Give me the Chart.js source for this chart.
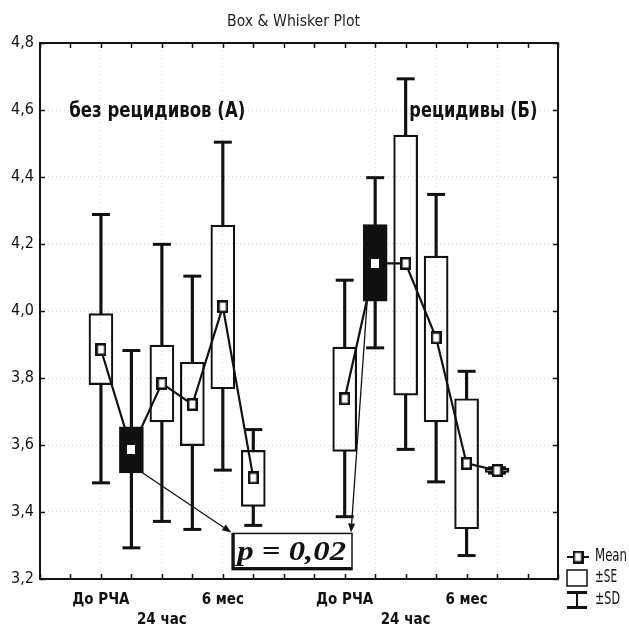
<!DOCTYPE html>
<html>
<head>
<meta charset="utf-8">
<script src="https://cdn.jsdelivr.net/npm/chart.js@4.4.1/dist/chart.umd.min.js"></script>
<style>
  html, body { margin: 0; padding: 0; background: #fff; }
  #wrap { width: 629px; height: 629px; }
</style>
</head>
<body>
<div id="wrap"><canvas id="boxChart"></canvas></div>
<script>
// x slots of the boxes: group A at 2..7, group B at 10..15
const positions = [2, 3, 4, 5, 6, 7, 10, 11, 12, 13, 14, 15];
const means = [3.885, 3.587, 3.784, 3.721, 4.013, 3.502, 3.738, 4.142, 4.142, 3.920, 3.545, 3.524];
const seLo  = [3.780, 3.517, 3.669, 3.598, 3.768, 3.417, 3.581, 4.029, 3.749, 3.669, 3.350, 3.518];
const seHi  = [3.992, 3.654, 3.898, 3.847, 4.256, 3.584, 3.892, 4.258, 4.525, 4.164, 3.738, 3.530];
const sdLo  = [3.487, 3.293, 3.372, 3.348, 3.525, 3.360, 3.386, 3.890, 3.587, 3.490, 3.270, 3.516];
const sdHi  = [4.288, 3.882, 4.199, 4.104, 4.504, 3.646, 4.092, 4.398, 4.693, 4.348, 3.820, 3.532];
const highlighted = [1, 7];          // boxes drawn solid
const groupA = [0, 1, 2, 3, 4, 5];
const groupB = [6, 7, 8, 9, 10, 11];

const tickPositions = [2, 4, 6, 10, 12, 14];
const tickNames = ['До РЧА', '24 час', '6 мес', 'До РЧА', '24 час', '6 мес'];
const tickRows = [0, 1, 0, 0, 1, 0];  // staggered labels go on the second line
const gridXAt = [2, 4, 6, 11, 13, 15];
const yTicks = { min: 3.2, max: 4.8, step: 0.2 };

const pText = 'p = 0,02';
const labelA = 'без рецидивов (А)';
const labelB = 'рецидивы (Б)';
const legendNames = ['Mean', '±SE', '±SD'];

const INK = '#111';
const NARROW = "'Liberation Sans Narrow', 'Arial Narrow', 'DejaVu Sans Condensed', sans-serif";

function markerCanvas(w, h, fill, stroke, lw) {
  const c = document.createElement('canvas');
  c.width = w; c.height = h;
  const g = c.getContext('2d');
  g.fillStyle = fill;
  g.fillRect(0, 0, w, h);
  if (stroke) {
    g.strokeStyle = stroke;
    g.lineWidth = lw;
    g.strokeRect(lw / 2, lw / 2, w - lw, h - lw);
  }
  return c;
}
const openMarker = markerCanvas(11, 13, '#fff', INK, 2.5);
const whiteMarker = markerCanvas(8, 9, '#fff');

const isSolid = i => highlighted.includes(i);
const pts = (idx, vals) => idx.map(i => ({ x: positions[i], y: vals[i] }));

// text squeezed/stretched to a given width
function fitText(ctx, text, x, y, width) {
  const w = ctx.measureText(text).width;
  ctx.save();
  ctx.translate(x, y);
  ctx.scale(width / w, 1);
  ctx.fillText(text, 0, 0);
  ctx.restore();
}

function arrow(ctx, x1, y1, x2, y2) {
  const ang = Math.atan2(y2 - y1, x2 - x1);
  const len = 9, half = 3.5;
  ctx.beginPath();
  ctx.moveTo(x1, y1);
  ctx.lineTo(x2 - Math.cos(ang) * len, y2 - Math.sin(ang) * len);
  ctx.stroke();
  ctx.beginPath();
  ctx.moveTo(x2, y2);
  ctx.lineTo(x2 - Math.cos(ang) * len - Math.sin(ang) * half, y2 - Math.sin(ang) * len + Math.cos(ang) * half);
  ctx.lineTo(x2 - Math.cos(ang) * len + Math.sin(ang) * half, y2 - Math.sin(ang) * len - Math.cos(ang) * half);
  ctx.closePath();
  ctx.fill();
}

const overlay = {
  id: 'overlay',
  afterDraw(chart) {
    const { ctx, chartArea: a, scales: { x, y } } = chart;
    ctx.save();
    ctx.strokeStyle = INK;
    ctx.fillStyle = INK;

    // frame with inward ticks on all four sides
    ctx.lineWidth = 2;
    ctx.strokeRect(a.left, a.top, a.width, a.height);
    ctx.lineWidth = 1.5;
    ctx.beginPath();
    for (let v = 0; v <= 17; v++) {
      const px = Math.round(x.getPixelForValue(v)) + 0.5;
      ctx.moveTo(px, a.top); ctx.lineTo(px, a.top + 5);
      ctx.moveTo(px, a.bottom); ctx.lineTo(px, a.bottom - 5);
    }
    for (let v = yTicks.min; v <= yTicks.max + 1e-9; v += yTicks.step) {
      const py = Math.round(y.getPixelForValue(v)) + 0.5;
      ctx.moveTo(a.left, py); ctx.lineTo(a.left + 5, py);
      ctx.moveTo(a.right, py); ctx.lineTo(a.right - 5, py);
    }
    ctx.stroke();

    // title
    ctx.font = "15px " + NARROW;
    ctx.textBaseline = 'middle';
    ctx.textAlign = 'left';
    ctx.fillStyle = '#222';
    fitText(ctx, 'Box & Whisker Plot', 227, 22, 133);
    ctx.fillStyle = INK;

    // group captions
    ctx.font = "bold 22px " + NARROW;
    fitText(ctx, labelA, x.getPixelForValue(0.96), y.getPixelForValue(4.596), 176);
    fitText(ctx, labelB, x.getPixelForValue(12.12), y.getPixelForValue(4.596), 128);

    // p-value box
    const bl = x.getPixelForValue(6.31), br = x.getPixelForValue(10.24);
    const bt = y.getPixelForValue(3.336), bb = y.getPixelForValue(3.228);
    ctx.fillStyle = '#fff';
    ctx.fillRect(bl, bt, br - bl, bb - bt);
    ctx.fillStyle = INK;
    ctx.lineWidth = 1.5;
    ctx.strokeRect(bl, bt, br - bl, bb - bt);
    ctx.lineWidth = 3;
    ctx.beginPath();
    ctx.moveTo(bl + 1, bt); ctx.lineTo(bl + 1, bb - 1); ctx.lineTo(br, bb - 1);
    ctx.stroke();
    ctx.font = "italic bold 28px 'Liberation Serif', 'DejaVu Serif', serif";
    fitText(ctx, pText, bl + 5, (bt + bb) / 2 + 1, br - bl - 11);

    // arrows from the solid boxes to the p-value box
    ctx.lineWidth = 1.3;
    const i1 = highlighted[0], i2 = highlighted[1];
    arrow(ctx, x.getPixelForValue(positions[i1]) + 11, y.getPixelForValue(seLo[i1]), bl - 1, bt - 1);
    arrow(ctx, x.getPixelForValue(positions[i2]) - 8, y.getPixelForValue(seLo[i2]), br - 1, bt - 1);

    // legend
    const lx = a.right + 9, tx = a.right + 37;
    const ly = [a.bottom - 22, a.bottom - 1, a.bottom + 21];
    ctx.lineWidth = 2;
    ctx.beginPath();
    ctx.moveTo(lx, ly[0]); ctx.lineTo(lx + 22, ly[0]);
    ctx.stroke();
    ctx.drawImage(openMarker, lx + 11 - 5.5, ly[0] - 6.5);
    ctx.lineWidth = 1.5;
    ctx.strokeRect(lx, ly[1] - 8, 20, 16);
    ctx.lineWidth = 2;
    ctx.beginPath();
    ctx.moveTo(lx + 10, ly[2] - 8); ctx.lineTo(lx + 10, ly[2] + 8);
    ctx.stroke();
    ctx.lineWidth = 3;
    ctx.beginPath();
    ctx.moveTo(lx, ly[2] - 7.5); ctx.lineTo(lx + 20, ly[2] - 7.5);
    ctx.moveTo(lx, ly[2] + 7.5); ctx.lineTo(lx + 20, ly[2] + 7.5);
    ctx.stroke();
    ctx.font = "17px " + NARROW;
    fitText(ctx, legendNames[0], tx, ly[0], 32);
    fitText(ctx, legendNames[1], tx, ly[1], 22);
    fitText(ctx, legendNames[2], tx, ly[2], 25);
    ctx.restore();
  }
};

new Chart(document.getElementById('boxChart'), {
  type: 'bar',
  data: {
    datasets: [
      {
        type: 'line', data: pts(groupA, means), borderColor: INK, borderWidth: 2.2,
        pointRadius: 0, order: 6
      },
      {
        type: 'line', data: pts(groupB, means), borderColor: INK, borderWidth: 2.2,
        pointRadius: 0, order: 6
      },
      {
        data: positions.map((p, i) => ({ x: p, y: [seLo[i], seHi[i]] })),
        backgroundColor: positions.map((p, i) => isSolid(i) ? INK : 'rgba(0,0,0,0)'),
        borderColor: INK, borderWidth: 1.5, borderSkipped: false,
        barThickness: 24, grouped: false, order: 4
      },
      {
        data: positions.map((p, i) => ({ x: p, y: [seHi[i], sdHi[i]] })),
        backgroundColor: INK, borderWidth: 0, barThickness: 2.5, grouped: false, order: 5
      },
      {
        data: positions.map((p, i) => ({ x: p, y: [sdLo[i], seLo[i]] })),
        backgroundColor: INK, borderWidth: 0, barThickness: 2.5, grouped: false, order: 5
      },
      {
        type: 'line', showLine: false,
        data: positions.flatMap((p, i) => [{ x: p, y: sdLo[i] }, { x: p, y: sdHi[i] }]),
        pointStyle: 'line', pointRadius: 9, pointBorderWidth: 3, pointBorderColor: INK,
        order: 3
      },
      {
        type: 'line', showLine: false,
        data: positions.map((p, i) => ({ x: p, y: means[i] })),
        pointStyle: positions.map((p, i) => isSolid(i) ? whiteMarker : openMarker),
        pointRadius: 6, order: 1
      }
    ]
  },
  options: {
    responsive: true,
    maintainAspectRatio: false,
    animation: false,
    devicePixelRatio: 1,
    layout: { padding: { top: 43, right: 71, bottom: 0, left: 0 } },
    plugins: { legend: { display: false }, tooltip: { enabled: false }, title: { display: false } },
    scales: {
      x: {
        type: 'linear', min: 0, max: 17, offset: false,
        afterFit: s => { s.height = 50; },
        border: { display: false, dash: [1, 3] },
        grid: {
          offset: false, drawTicks: false, lineWidth: 1,
          color: c => gridXAt.includes(c.tick && c.tick.value) ? '#e0e0e0' : 'rgba(0,0,0,0)'
        },
        ticks: {
          stepSize: 1, autoSkip: false, maxRotation: 0, padding: 11, color: INK,
          font: { family: NARROW, size: 15, weight: 'bold', lineHeight: 1.35 },
          callback: v => {
            const k = tickPositions.indexOf(v);
            if (k < 0) return '';
            return tickRows[k] ? ['', tickNames[k]] : tickNames[k];
          }
        }
      },
      y: {
        min: yTicks.min, max: yTicks.max,
        afterFit: s => { s.width = 40; },
        border: { display: false, dash: [1, 3] },
        grid: { drawTicks: false, color: '#d4d4d4', lineWidth: 1 },
        ticks: {
          stepSize: yTicks.step, padding: 6, color: INK,
          font: { family: NARROW, size: 16 },
          callback: v => v.toFixed(1).replace('.', ',')
        }
      }
    }
  },
  plugins: [overlay]
});
</script>
</body>
</html>
